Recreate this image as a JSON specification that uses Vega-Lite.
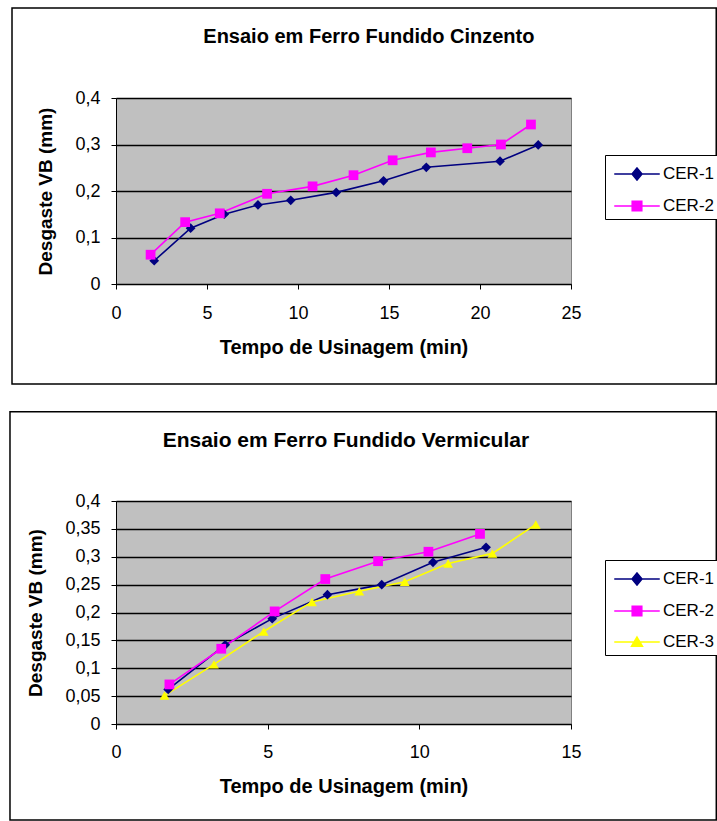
{
  "$schema": "https://vega.github.io/schema/vega-lite/v6.json",
  "padding": {"left": 8, "top": 6, "right": 0, "bottom": 0},
  "background": "white",
  "datasets": {
    "cinzento": [
      {"serie": "CER-1", "tempo": 2.1, "vb": 0.05},
      {"serie": "CER-1", "tempo": 4.1, "vb": 0.12},
      {"serie": "CER-1", "tempo": 5.95, "vb": 0.15},
      {"serie": "CER-1", "tempo": 7.8, "vb": 0.17},
      {"serie": "CER-1", "tempo": 9.6, "vb": 0.18},
      {"serie": "CER-1", "tempo": 12.1, "vb": 0.197},
      {"serie": "CER-1", "tempo": 14.7, "vb": 0.222},
      {"serie": "CER-1", "tempo": 17.05, "vb": 0.251},
      {"serie": "CER-1", "tempo": 21.1, "vb": 0.264},
      {"serie": "CER-1", "tempo": 23.2, "vb": 0.299},
      {"serie": "CER-2", "tempo": 1.9, "vb": 0.063},
      {"serie": "CER-2", "tempo": 3.8, "vb": 0.133},
      {"serie": "CER-2", "tempo": 5.7, "vb": 0.152},
      {"serie": "CER-2", "tempo": 8.3, "vb": 0.194},
      {"serie": "CER-2", "tempo": 10.8, "vb": 0.21},
      {"serie": "CER-2", "tempo": 13.05, "vb": 0.234},
      {"serie": "CER-2", "tempo": 15.2, "vb": 0.266},
      {"serie": "CER-2", "tempo": 17.3, "vb": 0.283},
      {"serie": "CER-2", "tempo": 19.3, "vb": 0.292},
      {"serie": "CER-2", "tempo": 21.15, "vb": 0.3},
      {"serie": "CER-2", "tempo": 22.8, "vb": 0.343}
    ],
    "vermicular": [
      {"serie": "CER-1", "tempo": 1.72, "vb": 0.062},
      {"serie": "CER-1", "tempo": 3.6, "vb": 0.142},
      {"serie": "CER-1", "tempo": 5.15, "vb": 0.189},
      {"serie": "CER-1", "tempo": 6.97, "vb": 0.232},
      {"serie": "CER-1", "tempo": 8.76, "vb": 0.25},
      {"serie": "CER-1", "tempo": 10.45, "vb": 0.29},
      {"serie": "CER-1", "tempo": 12.2, "vb": 0.317},
      {"serie": "CER-2", "tempo": 1.76, "vb": 0.071},
      {"serie": "CER-2", "tempo": 3.47, "vb": 0.135},
      {"serie": "CER-2", "tempo": 5.23, "vb": 0.202},
      {"serie": "CER-2", "tempo": 6.9, "vb": 0.26},
      {"serie": "CER-2", "tempo": 8.64, "vb": 0.292},
      {"serie": "CER-2", "tempo": 10.3, "vb": 0.309},
      {"serie": "CER-2", "tempo": 12.0, "vb": 0.341},
      {"serie": "CER-3", "tempo": 1.6, "vb": 0.051},
      {"serie": "CER-3", "tempo": 3.23, "vb": 0.107},
      {"serie": "CER-3", "tempo": 4.87, "vb": 0.166},
      {"serie": "CER-3", "tempo": 6.46, "vb": 0.219},
      {"serie": "CER-3", "tempo": 8.02, "vb": 0.238},
      {"serie": "CER-3", "tempo": 9.52, "vb": 0.255},
      {"serie": "CER-3", "tempo": 10.95, "vb": 0.288},
      {"serie": "CER-3", "tempo": 12.41, "vb": 0.306},
      {"serie": "CER-3", "tempo": 13.84, "vb": 0.358}
    ]
  },
  "vconcat": [
    {
      "title": {"text": "Ensaio em Ferro Fundido Cinzento", "frame": "bounds", "anchor": "middle", "offset": -40, "dx": 3},
      "width": 455,
      "height": 186,
      "data": {"name": "cinzento"},
      "layer": [
        {
          "mark": {"type": "line", "strokeWidth": 1.6},
          "encoding": {
            "x": {"field": "tempo", "type": "quantitative", "scale": {"domain": [0, 25], "nice": false},
                  "axis": {"title": "Tempo de Usinagem (min)", "values": [0, 5, 10, 15, 20, 25], "grid": false, "labelPadding": 15, "titlePadding": 15, "titleFontSize": 20}},
            "y": {"field": "vb", "type": "quantitative", "scale": {"domain": [0, 0.4], "nice": false},
                  "axis": {"title": "Desgaste VB (mm)", "values": [0, 0.1, 0.2, 0.3, 0.4], "grid": true, "labelExpr": "replace(format(datum.value, '~g'), '.', ',')", "labelPadding": 11, "titlePadding": 19, "titleFontSize": 19}},
            "color": {"field": "serie", "type": "nominal", "scale": {"domain": ["CER-1", "CER-2"], "range": ["#000080", "#ff00ff"]}, "legend": null}
          }
        },
        {
          "data": {"values": [{}]},
          "mark": {"type": "rect", "filled": false, "stroke": "black", "strokeWidth": 1.5, "clip": false},
          "encoding": {
            "x": {"datum": -5.714, "type": "quantitative",
                  "axis": {"title": "Tempo de Usinagem (min)", "values": [0, 5, 10, 15, 20, 25], "grid": false, "labelPadding": 15, "titlePadding": 15, "titleFontSize": 20}},
            "x2": {"datum": 32.98},
            "y": {"datum": 0.5935, "type": "quantitative",
                  "axis": {"title": "Desgaste VB (mm)", "values": [0, 0.1, 0.2, 0.3, 0.4], "grid": true, "labelExpr": "replace(format(datum.value, '~g'), '.', ',')", "labelPadding": 11, "titlePadding": 19, "titleFontSize": 19}},
            "y2": {"datum": -0.215}
          }
        },
        {
          "mark": {"type": "point", "filled": true, "size": 0},
          "encoding": {
            "x": {"field": "tempo", "type": "quantitative",
                  "axis": {"title": "Tempo de Usinagem (min)", "values": [0, 5, 10, 15, 20, 25], "grid": false, "labelPadding": 15, "titlePadding": 15, "titleFontSize": 20}},
            "y": {"field": "vb", "type": "quantitative",
                  "axis": {"title": "Desgaste VB (mm)", "values": [0, 0.1, 0.2, 0.3, 0.4], "grid": true, "labelExpr": "replace(format(datum.value, '~g'), '.', ',')", "labelPadding": 11, "titlePadding": 19, "titleFontSize": 19}},
            "fill": {"field": "serie", "type": "nominal", "scale": {"domain": ["CER-1", "CER-2"], "range": ["#000080", "#ff00ff"]},
                     "legend": {"title": null, "orient": "none", "legendX": 489, "legendY": 57}},
            "stroke": {"field": "serie", "type": "nominal", "scale": {"domain": ["CER-1", "CER-2"], "range": ["#000080", "#ff00ff"]},
                       "legend": {"title": null, "orient": "none", "legendX": 489, "legendY": 57}},
            "shape": {"field": "serie", "type": "nominal",
                      "scale": {"domain": ["CER-1", "CER-2"], "range": ["M-0.75,0H2.75M1,-0.46L1.385,0L1,0.46L0.615,0Z", "M-0.75,0H2.75M0.63,-0.37H1.37V0.37H0.63Z"]},
                      "legend": {"title": null, "orient": "none", "legendX": 489, "legendY": 57}}
          }
        },
        {
          "mark": {"type": "point", "filled": true, "opacity": 1, "size": 95},
          "encoding": {
            "x": {"field": "tempo", "type": "quantitative",
                  "axis": {"title": "Tempo de Usinagem (min)", "values": [0, 5, 10, 15, 20, 25], "grid": false, "labelPadding": 15, "titlePadding": 15, "titleFontSize": 20}},
            "y": {"field": "vb", "type": "quantitative",
                  "axis": {"title": "Desgaste VB (mm)", "values": [0, 0.1, 0.2, 0.3, 0.4], "grid": true, "labelExpr": "replace(format(datum.value, '~g'), '.', ',')", "labelPadding": 11, "titlePadding": 19, "titleFontSize": 19}},
            "color": {"field": "serie", "type": "nominal", "legend": null},
            "shape": {"field": "serie", "type": "nominal", "scale": {"domain": ["CER-1", "CER-2"], "range": ["diamond", "square"]}, "legend": null}
          }
        }
      ],
      "resolve": {"scale": {"shape": "independent", "fill": "independent", "stroke": "independent"}}
    },
    {
      "title": {"text": "Ensaio em Ferro Fundido Vermicular", "frame": "bounds", "anchor": "middle", "offset": -40, "dx": -19, "fontSize": 21},
      "width": 455,
      "height": 223,
      "data": {"name": "vermicular"},
      "layer": [
        {
          "mark": {"type": "line", "strokeWidth": 1.6},
          "encoding": {
            "x": {"field": "tempo", "type": "quantitative", "scale": {"domain": [0, 15], "nice": false},
                  "axis": {"title": "Tempo de Usinagem (min)", "values": [0, 5, 10, 15], "grid": false, "labelPadding": 14, "titlePadding": 15, "titleFontSize": 20}},
            "y": {"field": "vb", "type": "quantitative", "scale": {"domain": [0, 0.4], "nice": false},
                  "axis": {"title": "Desgaste VB (mm)", "values": [0, 0.05, 0.1, 0.15, 0.2, 0.25, 0.3, 0.35, 0.4], "grid": true, "labelExpr": "replace(format(datum.value, '~g'), '.', ',')", "labelPadding": 11, "titlePadding": 19, "titleFontSize": 19}},
            "color": {"field": "serie", "type": "nominal", "scale": {"domain": ["CER-1", "CER-2", "CER-3"], "range": ["#000080", "#ff00ff", "#ffff00"]}, "legend": null}
          }
        },
        {
          "data": {"values": [{}]},
          "mark": {"type": "rect", "filled": false, "stroke": "black", "strokeWidth": 1.5, "clip": false},
          "encoding": {
            "x": {"datum": -3.495, "type": "quantitative",
                  "axis": {"title": "Tempo de Usinagem (min)", "values": [0, 5, 10, 15], "grid": false, "labelPadding": 14, "titlePadding": 15, "titleFontSize": 20}},
            "x2": {"datum": 19.79},
            "y": {"datum": 0.56, "type": "quantitative",
                  "axis": {"title": "Desgaste VB (mm)", "values": [0, 0.05, 0.1, 0.15, 0.2, 0.25, 0.3, 0.35, 0.4], "grid": true, "labelExpr": "replace(format(datum.value, '~g'), '.', ',')", "labelPadding": 11, "titlePadding": 19, "titleFontSize": 19}},
            "y2": {"datum": -0.172}
          }
        },
        {
          "mark": {"type": "point", "filled": true, "size": 0},
          "encoding": {
            "x": {"field": "tempo", "type": "quantitative",
                  "axis": {"title": "Tempo de Usinagem (min)", "values": [0, 5, 10, 15], "grid": false, "labelPadding": 14, "titlePadding": 15, "titleFontSize": 20}},
            "y": {"field": "vb", "type": "quantitative",
                  "axis": {"title": "Desgaste VB (mm)", "values": [0, 0.05, 0.1, 0.15, 0.2, 0.25, 0.3, 0.35, 0.4], "grid": true, "labelExpr": "replace(format(datum.value, '~g'), '.', ',')", "labelPadding": 11, "titlePadding": 19, "titleFontSize": 19}},
            "fill": {"field": "serie", "type": "nominal", "scale": {"domain": ["CER-1", "CER-2", "CER-3"], "range": ["#000080", "#ff00ff", "#ffff00"]},
                     "legend": {"title": null, "orient": "none", "legendX": 489, "legendY": 59}},
            "stroke": {"field": "serie", "type": "nominal", "scale": {"domain": ["CER-1", "CER-2", "CER-3"], "range": ["#000080", "#ff00ff", "#ffff00"]},
                       "legend": {"title": null, "orient": "none", "legendX": 489, "legendY": 59}},
            "shape": {"field": "serie", "type": "nominal",
                      "scale": {"domain": ["CER-1", "CER-2", "CER-3"], "range": ["M-0.75,0H2.75M1,-0.46L1.385,0L1,0.46L0.615,0Z", "M-0.75,0H2.75M0.63,-0.37H1.37V0.37H0.63Z", "M-0.75,0H2.75M1,-0.38L1.42,0.32H0.58Z"]},
                      "legend": {"title": null, "orient": "none", "legendX": 489, "legendY": 59}}
          }
        },
        {
          "mark": {"type": "point", "filled": true, "opacity": 1, "size": 95},
          "encoding": {
            "x": {"field": "tempo", "type": "quantitative",
                  "axis": {"title": "Tempo de Usinagem (min)", "values": [0, 5, 10, 15], "grid": false, "labelPadding": 14, "titlePadding": 15, "titleFontSize": 20}},
            "y": {"field": "vb", "type": "quantitative",
                  "axis": {"title": "Desgaste VB (mm)", "values": [0, 0.05, 0.1, 0.15, 0.2, 0.25, 0.3, 0.35, 0.4], "grid": true, "labelExpr": "replace(format(datum.value, '~g'), '.', ',')", "labelPadding": 11, "titlePadding": 19, "titleFontSize": 19}},
            "color": {"field": "serie", "type": "nominal", "legend": null},
            "shape": {"field": "serie", "type": "nominal", "scale": {"domain": ["CER-1", "CER-2", "CER-3"], "range": ["diamond", "square", "triangle-up"]}, "legend": null}
          }
        }
      ],
      "resolve": {"scale": {"shape": "independent", "fill": "independent", "stroke": "independent"}}
    }
  ],
  "spacing": 24,
  "resolve": {
    "scale": {"x": "independent", "y": "independent", "color": "independent", "shape": "independent", "fill": "independent", "stroke": "independent"},
    "axis": {"x": "independent", "y": "independent"}
  },
  "config": {
    "font": "Liberation Sans",
    "view": {"fill": "#c0c0c0", "stroke": "#808080", "strokeWidth": 1},
    "title": {"font": "Liberation Sans", "fontSize": 20, "fontWeight": "bold", "color": "black"},
    "axis": {
      "labelFont": "Liberation Sans", "labelFontSize": 18, "labelColor": "black",
      "titleFont": "Liberation Sans", "titleFontWeight": "bold", "titleColor": "black",
      "domainColor": "black", "domainWidth": 1, "tickColor": "black", "tickSize": 5, "tickWidth": 1,
      "gridColor": "black", "gridWidth": 1.5, "gridOpacity": 1,
      "labelFlush": false, "labelOverlap": false
    },
    "legend": {
      "labelFont": "Liberation Sans", "labelFontSize": 17, "labelColor": "black",
      "strokeColor": "black", "fillColor": "white", "padding": 5, "rowPadding": 9,
      "symbolSize": 676, "labelOffset": 25, "symbolStrokeWidth": 1.5, "symbolOpacity": 1
    }
  }
}
